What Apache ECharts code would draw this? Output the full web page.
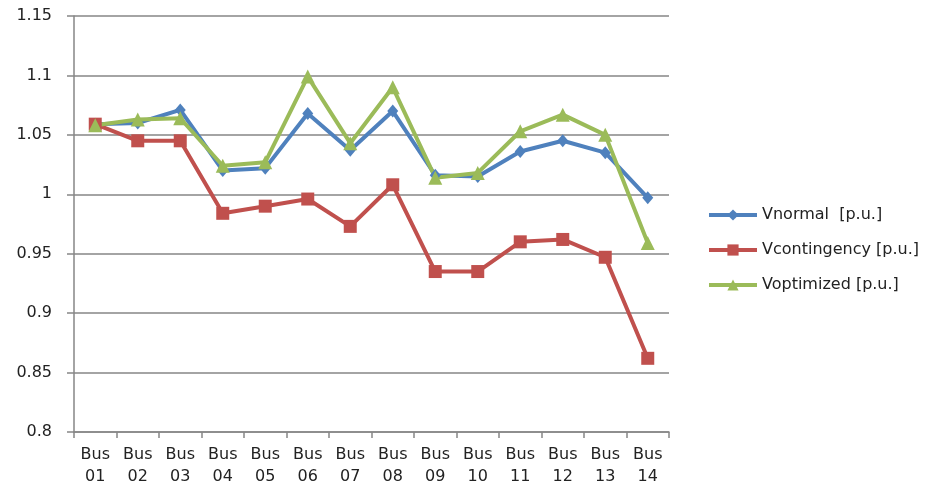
<!DOCTYPE html>
<html>
<head>
<meta charset="utf-8">
<script src="https://cdn.jsdelivr.net/npm/echarts@6/dist/echarts.min.js"></script>
<style>html,body{margin:0;padding:0;background:#fff;}#c{width:932px;height:488px;}</style>
</head>
<body>
<div id="c"></div>
<script>
var categories = ['Bus\n01','Bus\n02','Bus\n03','Bus\n04','Bus\n05','Bus\n06','Bus\n07','Bus\n08','Bus\n09','Bus\n10','Bus\n11','Bus\n12','Bus\n13','Bus\n14'];
var vNormal = [1.059,1.060,1.071,1.020,1.022,1.068,1.037,1.070,1.016,1.015,1.036,1.045,1.035,0.997];
var vContingency = [1.059,1.045,1.045,0.984,0.990,0.996,0.973,1.008,0.935,0.935,0.960,0.962,0.947,0.862];
var vOptimized = [1.058,1.063,1.064,1.024,1.027,1.099,1.043,1.090,1.014,1.018,1.053,1.067,1.050,0.959];
var seriesNames = ['Vnormal  [p.u.]','Vcontingency [p.u.]','Voptimized [p.u.]'];
var yTicks = ['0.8','0.85','0.9','0.95','1','1.05','1.1','1.15'];

var chart = echarts.init(document.getElementById('c'), null, {renderer:'canvas'});
var font = 'DejaVu Sans';
var gray = '#868686';
function mk(name, data, color, symbol, size){
  return {name:name, type:'line', data:data, symbol:symbol, symbolSize:size,
    showSymbol:true, lineStyle:{color:color,width:4}, itemStyle:{color:color},
    emphasis:{disabled:true}, animation:false};
}
chart.setOption({
  animation:false,
  grid:{left:74,right:263,top:16,bottom:56,containLabel:false},
  legend:{orient:'vertical',left:702,top:202,itemWidth:48,itemHeight:14,itemGap:19,
    lineStyle:{width:4},
    textStyle:{fontFamily:font,fontSize:16,color:'#222'},
    data:seriesNames},
  xAxis:{type:'category',data:categories,boundaryGap:true,
    axisLine:{lineStyle:{color:gray,width:1.5}},
    axisTick:{show:true,length:6,lineStyle:{color:gray,width:1.5}},
    axisLabel:{fontFamily:font,fontSize:16,color:'#222',lineHeight:22,margin:12,interval:0}},
  yAxis:{type:'value',min:0.8,max:1.15,interval:0.05,
    axisLine:{show:true,lineStyle:{color:gray,width:1.5}},
    axisTick:{show:true,length:7,lineStyle:{color:gray,width:1.5}},
    splitLine:{show:true,lineStyle:{color:gray,width:1.5}},
    axisLabel:{fontFamily:font,fontSize:16,color:'#222',margin:22,
      formatter:function(v){var i=Math.round((v-0.8)/0.05);return yTicks[i]!==undefined?yTicks[i]:'';}}},
  series:[
    mk(seriesNames[0],vNormal,'#4F81BD','diamond',[11,13]),
    mk(seriesNames[1],vContingency,'#C0504D','rect',13),
    mk(seriesNames[2],vOptimized,'#9BBB59','triangle',14)
  ]
});
</script>
</body>
</html>
